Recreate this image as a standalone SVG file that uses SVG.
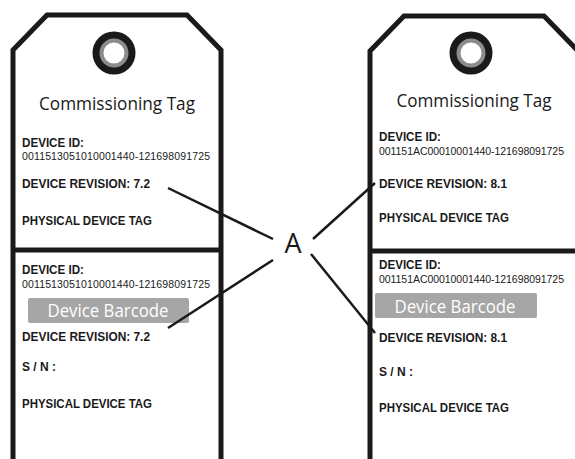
<svg xmlns="http://www.w3.org/2000/svg" width="575" height="459" viewBox="0 0 575 459">
<style>
.tag{fill:#fff;stroke:#1a1a1a;stroke-width:5;stroke-linejoin:miter}
.div{stroke:#1a1a1a;stroke-width:5}
.b{font-family:"Liberation Sans",Arial,sans-serif;font-weight:bold;font-size:12.5px;fill:#1a1a1a}
.n{font-family:"Liberation Sans",Arial,sans-serif;font-size:10.5px;fill:#1a1a1a}
.t{font-family:"Open Sans","Noto Sans",sans-serif;font-size:18px;fill:#1a1a1a;text-anchor:middle}
.bc{fill:#a6a6a6}
.bct{font-family:"Open Sans","Noto Sans",sans-serif;font-size:19px;fill:#fff;text-anchor:middle}
.c{stroke:#1a1a1a;stroke-width:2.5;fill:none}
.lbl{font-family:"Open Sans","Noto Sans",sans-serif;font-size:27px;fill:#1a1a1a;text-anchor:middle}
</style>
<g id="tag-left">
<path class="tag" d="M13,462 V50 L47,15 H187 L221,50 V462"/>
<line class="div" x1="13" y1="250" x2="221" y2="250"/>
<circle cx="114" cy="53" r="17" fill="none" stroke="#1a1a1a" stroke-width="9"/>
<circle cx="114" cy="53" r="12.5" fill="none" stroke="#8c8c8c" stroke-width="4"/>
<text class="t" x="117" y="110" textLength="156" lengthAdjust="spacingAndGlyphs">Commissioning Tag</text>
<text class="b" x="22" y="147" textLength="62" lengthAdjust="spacingAndGlyphs">DEVICE ID:</text>
<text class="n" x="22" y="160" textLength="188">0011513051010001440-121698091725</text>
<text class="b" x="22" y="188" textLength="128" lengthAdjust="spacingAndGlyphs">DEVICE REVISION: 7.2</text>
<text class="b" x="22" y="225" textLength="130" lengthAdjust="spacingAndGlyphs">PHYSICAL DEVICE TAG</text>
<text class="b" x="22" y="274" textLength="62" lengthAdjust="spacingAndGlyphs">DEVICE ID:</text>
<text class="n" x="22" y="288" textLength="188">0011513051010001440-121698091725</text>
<rect class="bc" x="28" y="298" width="161" height="25" rx="2"/>
<text class="bct" x="108" y="317" textLength="121" lengthAdjust="spacingAndGlyphs">Device Barcode</text>
<text class="b" x="22" y="341" textLength="128" lengthAdjust="spacingAndGlyphs">DEVICE REVISION: 7.2</text>
<text class="b" x="22" y="371" textLength="34" lengthAdjust="spacingAndGlyphs">S / N :</text>
<text class="b" x="22" y="408" textLength="130" lengthAdjust="spacingAndGlyphs">PHYSICAL DEVICE TAG</text>
</g>
<g id="tag-right">
<path class="tag" d="M370,462 V51 L404,16 H544 L578,51 V462"/>
<line class="div" x1="370" y1="251" x2="578" y2="251"/>
<circle cx="471" cy="53" r="17" fill="none" stroke="#1a1a1a" stroke-width="9"/>
<circle cx="471" cy="53" r="12.5" fill="none" stroke="#8c8c8c" stroke-width="4"/>
<text class="t" x="474" y="107" textLength="155" lengthAdjust="spacingAndGlyphs">Commissioning Tag</text>
<text class="b" x="379" y="141" textLength="62" lengthAdjust="spacingAndGlyphs">DEVICE ID:</text>
<text class="n" x="379" y="155" textLength="185">001151AC00010001440-121698091725</text>
<text class="b" x="379" y="188" textLength="128" lengthAdjust="spacingAndGlyphs">DEVICE REVISION: 8.1</text>
<text class="b" x="379" y="222" textLength="130" lengthAdjust="spacingAndGlyphs">PHYSICAL DEVICE TAG</text>
<text class="b" x="379" y="269" textLength="62" lengthAdjust="spacingAndGlyphs">DEVICE ID:</text>
<text class="n" x="379" y="283" textLength="185">001151AC00010001440-121698091725</text>
<rect class="bc" x="375" y="293" width="162" height="25" rx="2"/>
<text class="bct" x="455" y="313" textLength="121" lengthAdjust="spacingAndGlyphs">Device Barcode</text>
<text class="b" x="379" y="342" textLength="128" lengthAdjust="spacingAndGlyphs">DEVICE REVISION: 8.1</text>
<text class="b" x="379" y="376" textLength="34" lengthAdjust="spacingAndGlyphs">S / N :</text>
<text class="b" x="379" y="412" textLength="130" lengthAdjust="spacingAndGlyphs">PHYSICAL DEVICE TAG</text>
</g>
<g id="callout-A">
<text class="lbl" x="293" y="253">A</text>
</g>
<g id="connectors">
<line class="c" x1="168" y1="188" x2="273" y2="239"/>
<line class="c" x1="273" y1="260" x2="168" y2="328"/>
<line class="c" x1="313" y1="239" x2="375" y2="183"/>
<line class="c" x1="311" y1="254" x2="375" y2="333"/>
</g>
</svg>
